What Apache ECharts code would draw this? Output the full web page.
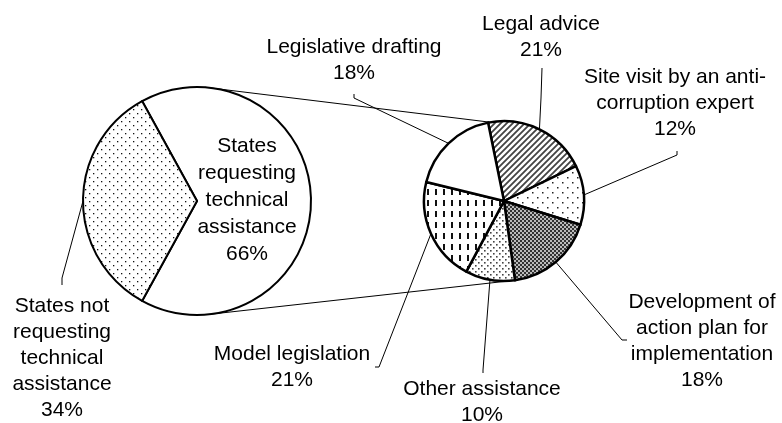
<!DOCTYPE html>
<html>
<head>
<meta charset="utf-8">
<script src="https://cdn.jsdelivr.net/npm/echarts@6/dist/echarts.min.js"></script>
<style>
html,body{margin:0;padding:0;background:#fff;}
#chart{width:782px;height:423px;}
</style>
</head>
<body>
<div id="chart"></div>
<script>
// ---- data ----
const bigCategories = ['States requesting technical assistance', 'States not requesting technical assistance'];
const bigValues = [66, 34];
const smallCategories = ['Legal advice', 'Site visit by an anti-corruption expert', 'Development of action plan for implementation', 'Other assistance', 'Model legislation', 'Legislative drafting'];
const smallValues = [21, 12, 18, 10, 21, 18];

// ---- text wrapping ----
const wrapped = {
  'States requesting technical assistance': 'States\nrequesting\ntechnical\nassistance',
  'States not requesting technical assistance': 'States not\nrequesting\ntechnical\nassistance',
  'Legal advice': 'Legal advice',
  'Site visit by an anti-corruption expert': 'Site visit by an anti-\ncorruption expert',
  'Development of action plan for implementation': 'Development of\naction plan for\nimplementation',
  'Other assistance': 'Other assistance',
  'Model legislation': 'Model legislation',
  'Legislative drafting': 'Legislative drafting'
};

// ---- layout ----
const BIG = {c: [197, 201], r: 114};
const SMALL = {c: [504, 201], r: 80};
const labelPlace = {
  'States requesting technical assistance': {x: 247, y: 200},
  'States not requesting technical assistance': {x: 62, y: 358, line: [[62, 278], [62, 285]]},
  'Legal advice': {x: 541, y: 37, line: [[541, 98], [542, 68]]},
  'Site visit by an anti-corruption expert': {x: 675, y: 103, line: [[677, 155], [677, 151]]},
  'Development of action plan for implementation': {x: 702, y: 341, line: [[622, 340], [627, 340]]},
  'Other assistance': {x: 482, y: 402, line: [[483, 370], [483, 373]]},
  'Model legislation': {x: 292, y: 367, line: [[379, 367], [375, 367]]},
  'Legislative drafting': {x: 354, y: 60, line: [[354, 98], [354, 94]]}
};

function makePattern(w, h, draw) {
  const c = document.createElement('canvas');
  c.width = w; c.height = h;
  const g = c.getContext('2d');
  g.fillStyle = '#fff';
  g.fillRect(0, 0, w, h);
  draw(g);
  return {image: c, repeat: 'repeat'};
}
const sparseDots = makePattern(8, 8, g => { g.fillStyle = '#111'; g.fillRect(1, 1, 1.3, 1.3); g.fillRect(5, 5, 1.3, 1.3); });
const wideDots = makePattern(10, 10, g => { g.fillStyle = '#222'; g.fillRect(2, 2, 1.5, 1.5); g.fillRect(7, 7, 1.5, 1.5); });
const hatch = makePattern(6, 6, g => {
  g.strokeStyle = '#444'; g.lineWidth = 1.8;
  g.beginPath();
  g.moveTo(-1, 7); g.lineTo(7, -1);
  g.moveTo(-4, 4); g.lineTo(4, -4);
  g.moveTo(2, 10); g.lineTo(10, 2);
  g.stroke();
});
const checker = makePattern(4, 4, g => {
  g.fillStyle = '#bbb'; g.fillRect(0, 0, 4, 4);
  g.fillStyle = '#333'; g.fillRect(0, 0, 2, 2); g.fillRect(2, 2, 2, 2);
});
const denseDots = makePattern(6, 6, g => { g.fillStyle = '#444'; g.fillRect(1, 1, 1.6, 1.6); g.fillRect(4, 4, 1.6, 1.6); });
const dashes = makePattern(8, 11, g => { g.fillStyle = '#111'; g.fillRect(3, 2, 2, 6); });

const bigFills = ['#fff', sparseDots];
const smallFills = [hatch, wideDots, checker, denseDots, dashes, '#fff'];

function pt(p, deg) {
  const a = deg * Math.PI / 180;
  return [p.c[0] + p.r * Math.cos(a), p.c[1] - p.r * Math.sin(a)];
}
function connector(a1, a2) {
  const p1 = pt(BIG, a1), p2 = pt(SMALL, a2);
  return {type: 'line', z: 0, shape: {x1: p1[0], y1: p1[1], x2: p2[0], y2: p2[1]}, style: {stroke: '#000', lineWidth: 1}};
}

function layoutFn(params) {
  const name = params.seriesIndex === 0 ? bigCategories[params.dataIndex] : smallCategories[params.dataIndex];
  const place = labelPlace[name];
  if (!place) return {};
  const out = {x: place.x, y: place.y, align: 'center', verticalAlign: 'middle'};
  if (place.line) {
    const start = (params.labelLinePoints && params.labelLinePoints[0]) || [place.line[0][0], place.line[0][1]];
    out.labelLinePoints = [start, place.line[0], place.line[1]];
  }
  return out;
}

const font = "'Liberation Sans', Arial, sans-serif";
const baseLabel = {
  show: true, position: 'outside', color: '#000', fontFamily: font, fontSize: 21, lineHeight: 26,
  formatter: p => wrapped[p.name] + '\n' + Math.round(p.percent) + '%'
};

const chart = echarts.init(document.getElementById('chart'), null, {renderer: 'canvas'});
chart.setOption({
  animation: false,
  backgroundColor: '#fff',
  graphic: [connector(86, 100), connector(-83.5, -84)],
  series: [
    {
      type: 'pie', center: BIG.c, radius: BIG.r, startAngle: 118.8, clockwise: true,
      avoidLabelOverlap: false, percentPrecision: 0, silent: true, z: 3,
      itemStyle: {borderColor: '#000', borderWidth: 2},
      label: baseLabel,
      labelLine: {show: true, length: 10, length2: 10, lineStyle: {color: '#000', width: 1}},
      labelLayout: layoutFn,
      data: bigCategories.map((n, i) => i === 0 ? {
        name: n, value: bigValues[i], itemStyle: {color: bigFills[i]},
        label: {position: 'inside', lineHeight: 27}, labelLine: {show: false}
      } : {name: n, value: bigValues[i], itemStyle: {color: bigFills[i]}})
    },
    {
      type: 'pie', center: SMALL.c, radius: SMALL.r, startAngle: 101.5, clockwise: true,
      avoidLabelOverlap: false, percentPrecision: 0, silent: true, z: 3,
      itemStyle: {borderColor: '#000', borderWidth: 2.5},
      label: baseLabel,
      labelLine: {show: true, length: 10, length2: 10, lineStyle: {color: '#000', width: 1}},
      labelLayout: layoutFn,
      data: smallCategories.map((n, i) => ({name: n, value: smallValues[i], itemStyle: {color: smallFills[i]}}))
    }
  ]
});
</script>
</body>
</html>
